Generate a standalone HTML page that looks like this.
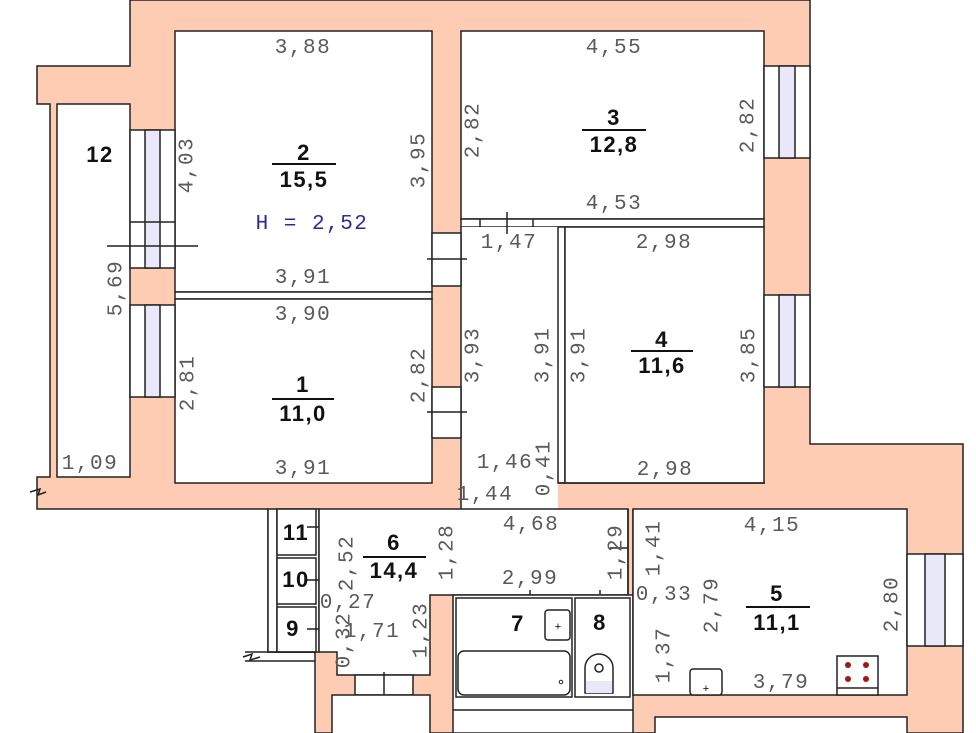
<!DOCTYPE html>
<html><head><meta charset="utf-8"><style>
html,body{margin:0;padding:0;background:#fff;}
svg{display:block;}
.d{font-family:"Liberation Mono",monospace;font-size:21px;fill:#5a5a5a;letter-spacing:1.5px;}
.b{font-family:"Liberation Sans",sans-serif;font-size:22px;font-weight:bold;fill:#111;letter-spacing:1.5px;}
</style></head><body>
<svg width="976" height="733" viewBox="0 0 976 733" xmlns="http://www.w3.org/2000/svg">
<g stroke="#222" stroke-width="1.5">
<polygon fill="#FECBB3" points="130,0 810,0 810,444 963,444 963,733 315,733 315,652 268,652 268,509 37,509 37,477 50,477 50,104 37,104 37,66 130,66"/>
<!-- balcony -->
<rect x="57" y="104" width="73" height="373" fill="#fff"/>
<!-- rooms -->
<rect x="175" y="31" width="257" height="261" fill="#fff"/>
<rect x="175" y="292" width="257" height="7" fill="#fff"/>
<rect x="175" y="299" width="257" height="184" fill="#fff"/>
<rect x="461" y="31" width="303" height="188" fill="#fff"/>
<rect x="461" y="219" width="303" height="8" fill="#fff"/>
<rect x="461" y="227" width="97" height="282" fill="#fff" stroke="none"/>
<line x1="461" y1="227" x2="461" y2="509"/>
<rect x="558" y="227" width="7" height="256" fill="#fff"/>
<rect x="565" y="227" width="199" height="256" fill="#fff"/>
<!-- left windows -->
<rect x="130" y="130" width="45" height="138" fill="#fff"/>
<rect x="145" y="130" width="15" height="138" fill="#E8E8F8"/>
<line x1="130" y1="222" x2="175" y2="222"/>
<line x1="107" y1="246" x2="198" y2="246"/>
<rect x="130" y="305" width="45" height="92" fill="#fff"/>
<rect x="145" y="305" width="15" height="92" fill="#E8E8F8"/>
<!-- right windows -->
<rect x="764" y="66" width="46" height="92" fill="#fff"/>
<rect x="779" y="66" width="16" height="92" fill="#E8E8F8"/>
<rect x="764" y="295" width="46" height="92" fill="#fff"/>
<rect x="779" y="295" width="16" height="92" fill="#E8E8F8"/>
<!-- doors -->
<rect x="432" y="233" width="29" height="53" fill="#fff"/>
<line x1="427" y1="259" x2="467" y2="259"/>
<rect x="432" y="387" width="29" height="51" fill="#fff"/>
<line x1="427" y1="412" x2="467" y2="412"/>
<line x1="480" y1="219" x2="480" y2="227"/><line x1="533" y1="219" x2="533" y2="227"/>
<line x1="507" y1="212" x2="507" y2="234"/>
<line x1="558" y1="483" x2="765" y2="483"/>
<!-- closets -->
<rect x="268" y="509" width="51" height="143" fill="#fff"/>
<line x1="277" y1="509" x2="277" y2="652"/>
<rect x="277" y="509" width="39" height="46" fill="#fff"/>
<rect x="277" y="558" width="39" height="46" fill="#fff"/>
<rect x="277" y="607" width="39" height="45" fill="#fff"/>
<line x1="307" y1="527" x2="327" y2="527"/><line x1="307" y1="580" x2="327" y2="580"/><line x1="307" y1="629" x2="327" y2="629"/>
<line x1="245" y1="652" x2="315" y2="652"/><line x1="245" y1="661" x2="315" y2="661"/>
<polyline fill="none" points="243,657 252,654 250,660 260,657"/>
<polyline fill="none" points="30,492 40,489 38,495 46,492"/>
<!-- hallway 6 -->
<polygon fill="#fff" points="319,509 628,509 628,595 430,595 430,675 337,675 337,652 319,652"/>
<rect x="355" y="675" width="58" height="20" fill="#fff"/>
<line x1="384" y1="672" x2="384" y2="698"/>
<rect x="332" y="695" width="98" height="40" fill="#fff"/>
<line x1="628" y1="509" x2="628" y2="595"/><line x1="633" y1="509" x2="633" y2="595"/>
<line x1="610" y1="548" x2="628" y2="548"/>
<line x1="530" y1="590" x2="530" y2="603"/><line x1="600" y1="590" x2="600" y2="603"/>
<!-- bath -->
<rect x="453" y="595" width="180" height="138" fill="#fff"/>
<rect x="456" y="598" width="116" height="99" fill="#fff"/>
<rect x="575" y="598" width="55" height="99" fill="#fff"/>
<line x1="453" y1="710" x2="633" y2="710"/>
<rect x="458" y="651" width="112" height="44" rx="6" fill="#fff"/>
<rect x="545" y="610" width="25" height="30" rx="3" fill="#fff"/>
<path d="M585,693 V668 a14,14 0 0 1 28,0 V693 Z" fill="#fff"/>
<rect x="586" y="681" width="26" height="12" fill="#E8E8F8" stroke="none"/>
<circle cx="599" cy="668" r="4" fill="#fff"/>
<!-- radiator column -->
<rect x="636" y="610" width="16" height="84" fill="#fff"/>
<rect x="639" y="612" width="10" height="48" rx="5" fill="#fff"/>
<circle cx="644" cy="666" r="4.5" fill="#fff"/><circle cx="644" cy="675" r="4.5" fill="#fff"/><circle cx="644" cy="684" r="4.5" fill="#fff"/>
<!-- kitchen -->
<rect x="633" y="509" width="274" height="186" fill="#fff"/>
<rect x="907" y="554" width="56" height="92" fill="#fff"/>
<rect x="925" y="554" width="20" height="92" fill="#E8E8F8"/>
<rect x="655" y="717" width="252" height="20" fill="#fff"/>
<rect x="690" y="669" width="32" height="26" rx="3" fill="#fff"/>
<rect x="837" y="656" width="41" height="39" fill="#fff"/>
<line x1="837" y1="688" x2="878" y2="688"/>
</g>
<g fill="#a01818">
<circle cx="848" cy="665" r="3"/><circle cx="866" cy="665" r="3"/><circle cx="848" cy="679" r="3"/><circle cx="866" cy="679" r="3"/>
</g>
<g font-family="Liberation Sans,sans-serif" font-size="11" fill="#000"><text x="558" y="630" text-anchor="middle">+</text><text x="706" y="692" text-anchor="middle">+</text></g>
<circle cx="561" cy="682" r="1.8" fill="none" stroke="#222"/>
<!-- labels -->
<g class="d" text-anchor="middle">
<text x="303" y="53">3,88</text>
<text x="303" y="283">3,91</text>
<text x="303" y="320">3,90</text>
<text x="303" y="474">3,91</text>
<text x="90" y="469">1,09</text>
<text x="614" y="53">4,55</text>
<text x="614" y="209">4,53</text>
<text x="509" y="248">1,47</text>
<text x="664" y="248">2,98</text>
<text x="505" y="468">1,46</text>
<text x="665" y="475">2,98</text>
<text x="485" y="500">1,44</text>
<text x="531" y="530">4,68</text>
<text x="348" y="608">0,27</text>
<text x="530" y="584">2,99</text>
<text x="664" y="600">0,33</text>
<text x="372" y="637">1,71</text>
<text x="781" y="688">3,79</text>
<text x="772" y="531">4,15</text>
<text x="312" y="229" style="fill:#2a2a9a">H = 2,52</text>
</g>
<g class="d" text-anchor="middle" dominant-baseline="central">
<text transform="translate(188,165) rotate(-90)">4,03</text>
<text transform="translate(420,160) rotate(-90)">3,95</text>
<text transform="translate(117,288) rotate(-90)">5,69</text>
<text transform="translate(189,383) rotate(-90)">2,81</text>
<text transform="translate(420,375) rotate(-90)">2,82</text>
<text transform="translate(474,130) rotate(-90)">2,82</text>
<text transform="translate(749,125) rotate(-90)">2,82</text>
<text transform="translate(474,355) rotate(-90)">3,93</text>
<text transform="translate(544,355) rotate(-90)">3,91</text>
<text transform="translate(580,355) rotate(-90)">3,91</text>
<text transform="translate(750,355) rotate(-90)">3,85</text>
<text transform="translate(545,468) rotate(-90)">0,41</text>
<text transform="translate(348,563) rotate(-90)">2,52</text>
<text transform="translate(448,552) rotate(-90)">1,28</text>
<text transform="translate(617,552) rotate(-90)">1,29</text>
<text transform="translate(655,548) rotate(-90)">1,41</text>
<text transform="translate(345,640) rotate(-90)">0,32</text>
<text transform="translate(422,630) rotate(-90)">1,23</text>
<text transform="translate(713,605) rotate(-90)">2,79</text>
<text transform="translate(665,655) rotate(-90)">1,37</text>
<text transform="translate(893,604) rotate(-90)">2,80</text>
</g>
<g class="b" text-anchor="middle">
<text x="100" y="162">12</text>
<text x="304" y="160">2</text><text x="304" y="187">15,5</text>
<text x="303" y="392">1</text><text x="303" y="421">11,0</text>
<text x="614" y="125">3</text><text x="614" y="152">12,8</text>
<text x="662" y="347">4</text><text x="662" y="373">11,6</text>
<text x="394" y="550">6</text><text x="394" y="578">14,4</text>
<text x="777" y="601">5</text><text x="777" y="630">11,1</text>
<text x="296" y="540">11</text><text x="296" y="587">10</text><text x="293" y="636">9</text>
<text x="518" y="631">7</text><text x="600" y="630">8</text>
</g>
<g stroke="#111" stroke-width="2">
<line x1="272" y1="164" x2="336" y2="164"/>
<line x1="272" y1="399" x2="334" y2="399"/>
<line x1="582" y1="130" x2="646" y2="130"/>
<line x1="631" y1="351" x2="693" y2="351"/>
<line x1="363" y1="557" x2="426" y2="557"/>
<line x1="746" y1="607" x2="810" y2="607"/>
</g>
</svg>
</body></html>
